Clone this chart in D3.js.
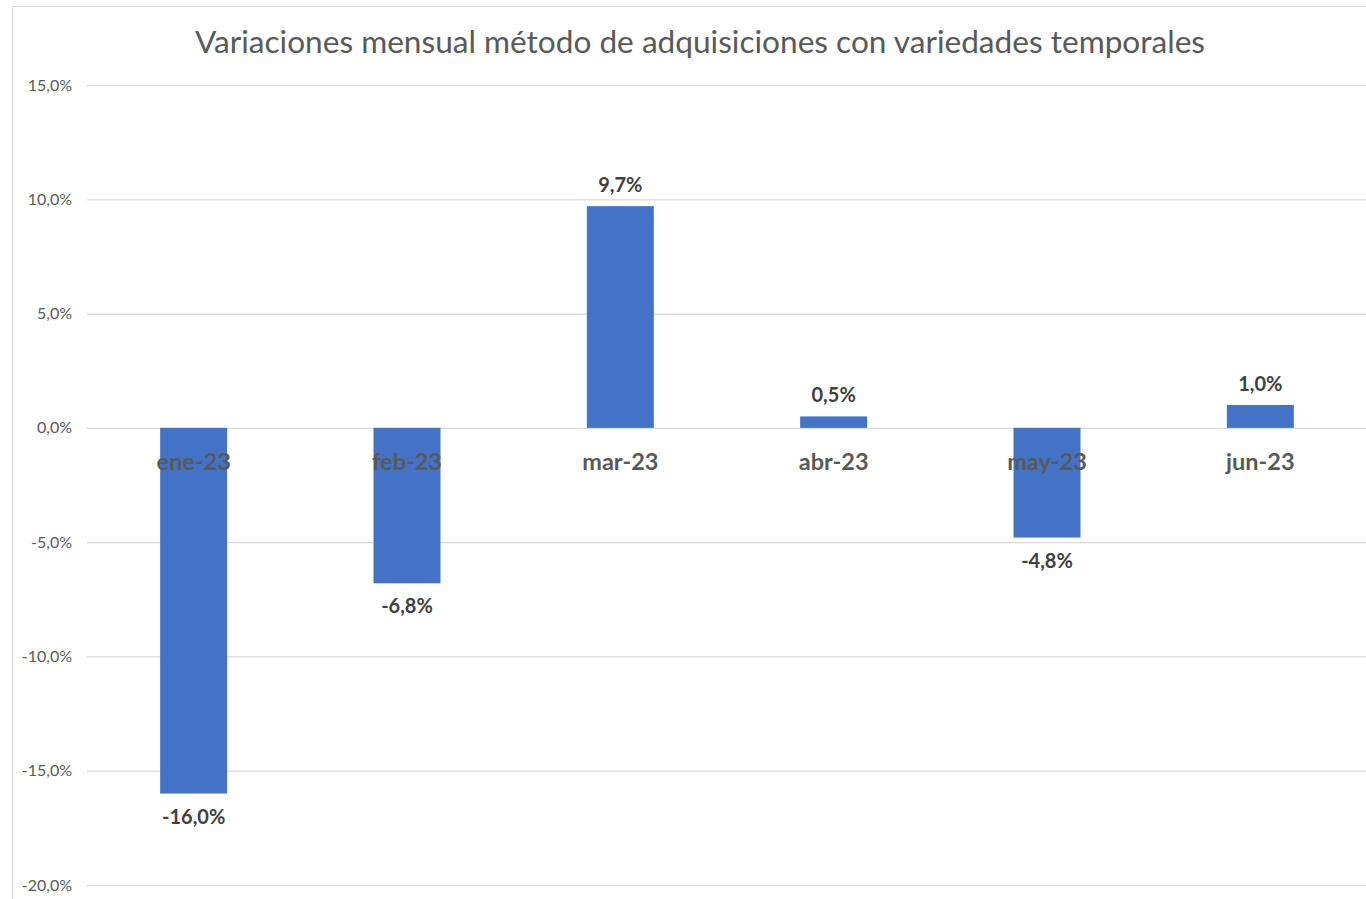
<!DOCTYPE html>
<html><head><meta charset="utf-8">
<script src="https://cdn.jsdelivr.net/npm/d3@7"></script>
<style>html,body{margin:0;padding:0;background:#fff;overflow:hidden}</style>
</head><body>
<svg id="c" width="1366" height="899"></svg>
<script>
const categories = ["ene-23","feb-23","mar-23","abr-23","may-23","jun-23"];
const values = [-16.0, -6.8, 9.7, 0.5, -4.8, 1.0];
const yTicks = [15, 10, 5, 0, -5, -10, -15, -20];
const title = "Variaciones mensual método de adquisiciones con variedades temporales";

const svg = d3.select("#c");
const font = "Lato, 'Open Sans', sans-serif";
const fmt = v => d3.format(".1f")(v).replace(".", ",").replace("\u2212", "-") + "%";

svg.append("rect").attr("x",12.5).attr("y",6.5).attr("width",1400).attr("height",1000)
  .attr("fill","#fff").attr("stroke","#d9d9d9").attr("stroke-width",1);

const x = d3.scaleBand().domain(categories).range([87, 1367]).paddingInner(0.686).paddingOuter(0.343);
const y = d3.scaleLinear().domain([-20, 15]).range([885, 85]);

svg.append("text").attr("x", 700).attr("y", 53).attr("text-anchor","middle")
  .attr("font-family", font).attr("font-size", 31.6).attr("fill","#595959").text(title);

const yAxis = d3.axisLeft(y).tickValues(yTicks).tickSize(-(1366-87)).tickFormat(fmt);
const ga = svg.append("g").attr("transform","translate(87,0)").call(yAxis);
ga.select(".domain").remove();
ga.selectAll(".tick line").attr("stroke","#d9d9d9").attr("stroke-width",1.3);
ga.selectAll(".tick text").attr("x",-15).attr("font-family",font).attr("font-size",16).attr("fill","#595959");

svg.append("g").selectAll("rect").data(values).join("rect")
  .attr("x",(d,i)=>x(categories[i]))
  .attr("width",x.bandwidth())
  .attr("y",d=>y(Math.max(0,d)))
  .attr("height",d=>Math.abs(y(d)-y(0)))
  .attr("fill","#4472c4");

const xAxis = d3.axisBottom(x).tickSize(0);
const gx = svg.append("g").attr("transform",`translate(0,${y(0)})`).call(xAxis);
gx.select(".domain").remove();
gx.selectAll(".tick text").attr("dy",0).attr("y",42).attr("font-family",font).attr("font-weight","bold")
  .attr("font-size",23.5).attr("fill","#595959");

svg.append("g").selectAll("text").data(values).join("text")
  .attr("x",(d,i)=>x(categories[i])+x.bandwidth()/2)
  .attr("y",d=> d>=0 ? y(d)-14 : y(d)+30)
  .attr("text-anchor","middle").attr("font-family",font).attr("font-weight","bold")
  .attr("font-size",20).attr("fill","#404040").text(fmt);
</script>
</body></html>
